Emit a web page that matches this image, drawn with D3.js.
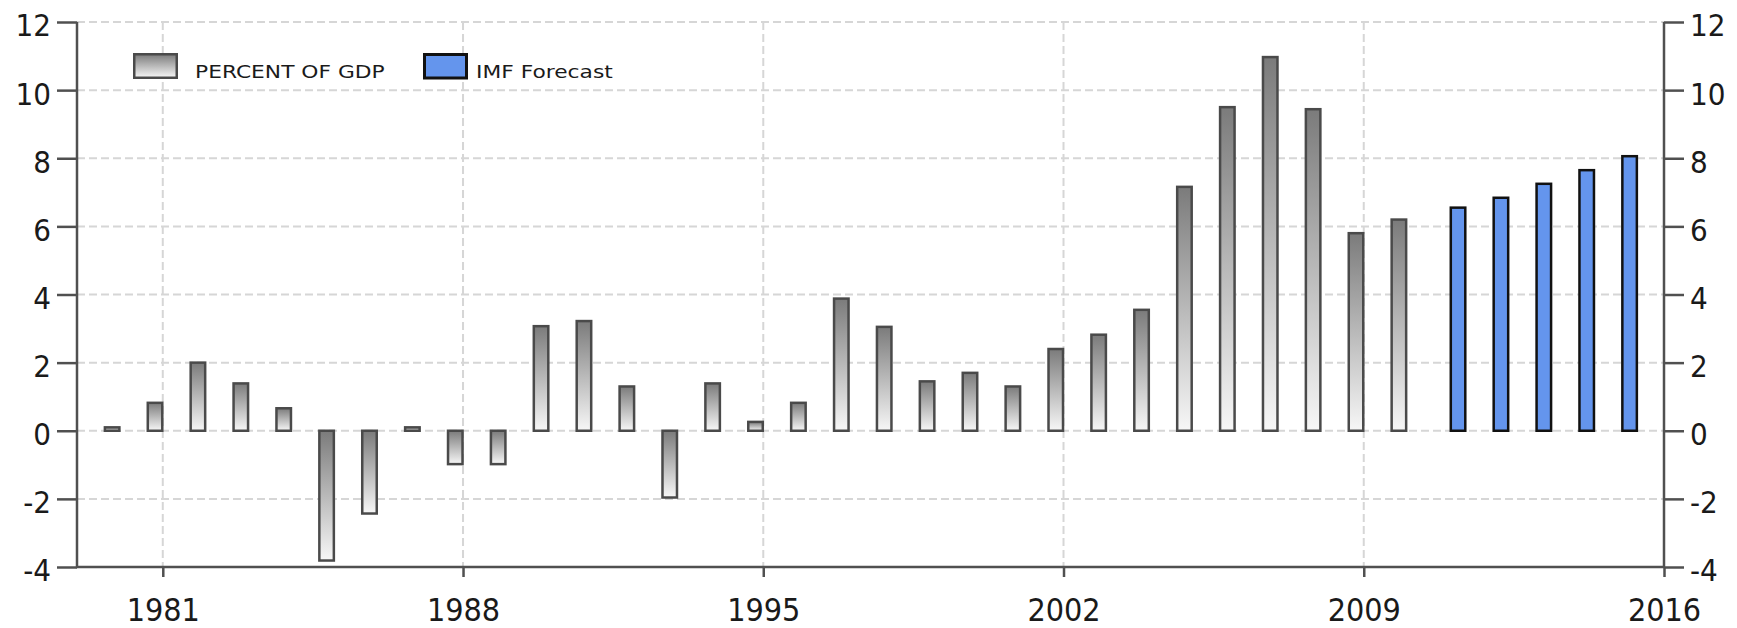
<!DOCTYPE html>
<html>
<head>
<meta charset="utf-8">
<script src="https://cdn.jsdelivr.net/npm/d3@7"></script>
<style>
  body { margin: 0; background: #fff; }
  .tick-label { font-family: "DejaVu Sans Condensed", "DejaVu Sans", sans-serif; font-stretch: condensed; fill: #1a1a1a; }
  .legend-label { font-family: "DejaVu Sans", sans-serif; font-size: 18px; fill: #1a1a1a; }
</style>
</head>
<body>
<svg id="chart"></svg>
<script>
// current account, percent of GDP (1980-2010) and IMF forecast (2011-2015)
var years = [1980, 1981, 1982, 1983, 1984, 1985, 1986, 1987, 1988, 1989,
             1990, 1991, 1992, 1993, 1994, 1995, 1996, 1997, 1998, 1999,
             2000, 2001, 2002, 2003, 2004, 2005, 2006, 2007, 2008, 2009, 2010];
var values = [0.1, 0.82, 2.0, 1.39, 0.66, -3.81, -2.43, 0.1, -0.98, -0.98,
              3.07, 3.22, 1.3, -1.96, 1.39, 0.26, 0.82, 3.88, 3.05, 1.45,
              1.7, 1.3, 2.4, 2.82, 3.55, 7.16, 9.5, 10.97, 9.44, 5.8, 6.2];
var forecastYears = [2011, 2012, 2013, 2014, 2015];
var forecastValues = [6.55, 6.84, 7.25, 7.65, 8.06];
var xTicks = [1981, 1988, 1995, 2002, 2009, 2016];
var yTicks = [-4, -2, 0, 2, 4, 6, 8, 10, 12];
var legendLabels = ["PERCENT OF GDP", "IMF Forecast"];

var width = 1737, height = 628;
var margin = {top: 22, right: 73, bottom: 61, left: 77};

var svg = d3.select("#chart")
  .attr("width", width)
  .attr("height", height)
  .attr("viewBox", "0 0 " + width + " " + height);

var x = d3.scaleLinear()
  .domain([1979, 2016])
  .range([margin.left, width - margin.right]);

var y = d3.scaleLinear()
  .domain([-4, 12])
  .range([height - margin.bottom, margin.top]);

var barW = 14.5;
var fmt = function(d) { return String(d); };   // plain hyphen for negatives

var grad = svg.append("defs").append("linearGradient")
  .attr("id", "bar-gradient")
  .attr("x1", "0").attr("y1", "0")
  .attr("x2", "0").attr("y2", "1");
grad.append("stop").attr("offset", "0%").attr("stop-color", "#7b7b7b");
grad.append("stop").attr("offset", "100%").attr("stop-color", "#f7f7f7");

// grid
var grid = svg.append("g")
  .style("stroke", "#d6d6d6")
  .style("stroke-width", 2)
  .style("stroke-dasharray", "8,4");

grid.selectAll("line.h")
  .data(yTicks.filter(function(d) { return d > -4; }))
  .enter().append("line")
    .attr("class", "h")
    .attr("x1", x(1979)).attr("x2", x(2016))
    .attr("y1", function(d) { return y(d); })
    .attr("y2", function(d) { return y(d); });

grid.selectAll("line.v")
  .data(xTicks.filter(function(d) { return d < 2016; }))
  .enter().append("line")
    .attr("class", "v")
    .attr("x1", function(d) { return x(d); })
    .attr("x2", function(d) { return x(d); })
    .attr("y1", y(12)).attr("y2", y(-4));

// bars
var data = years.map(function(d, i) { return {year: d, value: values[i]}; });
var forecast = forecastYears.map(function(d, i) { return {year: d, value: forecastValues[i]}; });

svg.append("g").selectAll("rect")
  .data(data)
  .enter().append("rect")
    .attr("x", function(d) { return x(d.year) - 15; })
    .attr("y", function(d) { return y(Math.max(0, d.value)); })
    .attr("width", barW)
    .attr("height", function(d) { return Math.abs(y(d.value) - y(0)); })
    .style("fill", "url(#bar-gradient)")
    .style("stroke", "#4a4a4a")
    .style("stroke-width", 2.5);

svg.append("g").selectAll("rect")
  .data(forecast)
  .enter().append("rect")
    .attr("x", function(d) { return x(d.year) + 1.25; })
    .attr("y", function(d) { return y(Math.max(0, d.value)); })
    .attr("width", barW)
    .attr("height", function(d) { return Math.abs(y(d.value) - y(0)); })
    .style("fill", "#6495ed")
    .style("stroke", "#111")
    .style("stroke-width", 2.5);

// axes
var axisColor = "#505050";

var left = svg.append("g")
  .attr("transform", "translate(" + x(1979) + ",0)")
  .call(d3.axisLeft(y).tickValues(yTicks).tickSize(20).tickPadding(6).tickFormat(fmt));

var right = svg.append("g")
  .attr("transform", "translate(" + x(2016) + ",0)")
  .call(d3.axisRight(y).tickValues(yTicks).tickSize(20).tickPadding(6).tickFormat(fmt));

var bottom = svg.append("g")
  .attr("transform", "translate(0," + y(-4) + ")")
  .call(d3.axisBottom(x).tickValues(xTicks).tickSize(10).tickPadding(21).tickFormat(fmt));

[left, right, bottom].forEach(function(a) {
  a.select(".domain").remove();
  a.selectAll(".tick line").style("stroke", axisColor).style("stroke-width", 2.5);
  a.selectAll(".tick text").attr("class", "tick-label").attr("fill", null);
});
left.selectAll(".tick text").style("font-size", "31px").attr("dy", "0.45em");
right.selectAll(".tick text").style("font-size", "31px").attr("dy", "0.45em");
bottom.selectAll(".tick text").style("font-size", "32px").attr("dy", "0.71em");

// axis lines
svg.append("path")
  .attr("d", "M" + x(1979) + "," + y(12) + "V" + y(-4) + "H" + x(2016) + "V" + y(12))
  .style("fill", "none")
  .style("stroke", axisColor)
  .style("stroke-width", 2.5);

// legend
var legend = svg.append("g");

legend.append("rect")
  .attr("x", 134.25).attr("y", 54.25)
  .attr("width", 42.5).attr("height", 23.5)
  .style("fill", "url(#bar-gradient)")
  .style("stroke", "#4a4a4a")
  .style("stroke-width", 2.5);

legend.append("rect")
  .attr("x", 424.5).attr("y", 54.5)
  .attr("width", 42).attr("height", 23.5)
  .style("fill", "#6495ed")
  .style("stroke", "#111")
  .style("stroke-width", 3);

legend.selectAll("text")
  .data(legendLabels)
  .enter().append("text")
    .attr("class", "legend-label")
    .attr("transform", function(d, i) { return "translate(" + [195, 476][i] + ",78) scale(1.21,1)"; })
    .text(function(d) { return d; });
</script>
</body>
</html>
